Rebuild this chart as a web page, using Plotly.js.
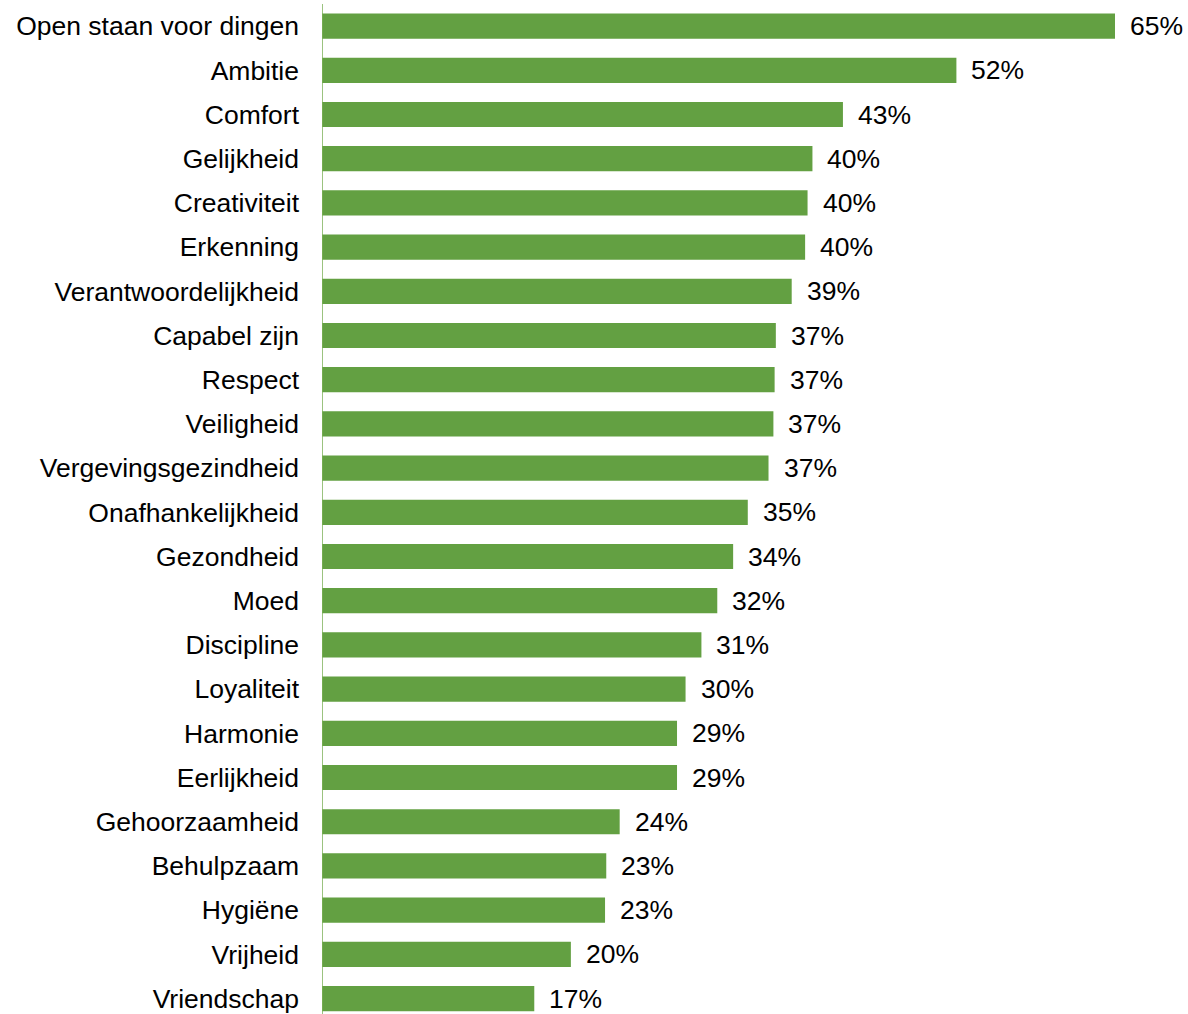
<!DOCTYPE html>
<html>
<head>
<meta charset="utf-8">
<script src="https://cdn.plot.ly/plotly-3.0.1.min.js"></script>
<style>html,body{margin:0;padding:0;background:#fff;}#chart{width:1188px;height:1014px;}</style>
</head>
<body>
<div id="chart"></div>
<script>
const categories = ["Open staan voor dingen","Ambitie","Comfort","Gelijkheid","Creativiteit","Erkenning","Verantwoordelijkheid","Capabel zijn","Respect","Veiligheid","Vergevingsgezindheid","Onafhankelijkheid","Gezondheid","Moed","Discipline","Loyaliteit","Harmonie","Eerlijkheid","Gehoorzaamheid","Behulpzaam","Hygiëne","Vrijheid","Vriendschap"];
const values = [65.0,52.0,42.7,40.2,39.8,39.6,38.5,37.2,37.1,37.0,36.6,34.9,33.7,32.4,31.1,29.8,29.1,29.1,24.4,23.3,23.2,20.4,17.4];
const labels = ["65%","52%","43%","40%","40%","40%","39%","37%","37%","37%","37%","35%","34%","32%","31%","30%","29%","29%","24%","23%","23%","20%","17%"];

const font = {family: "Liberation Sans, Arial, sans-serif", size: 26.5, color: "#000"};

const trace = {
  type: "bar",
  orientation: "h",
  x: values,
  y: categories,
  marker: {color: "#63a042"},
  width: 0.57,
  hoverinfo: "skip"
};

const annotations = categories.map((c, i) => ({
  x: values[i], y: c, xref: "x", yref: "y",
  text: labels[i], showarrow: false, xanchor: "left", xshift: 13,
  font: font
}));

const layout = {
  width: 1188, height: 1014,
  margin: {l: 322, r: 12, t: 4, b: 0},
  paper_bgcolor: "#fff", plot_bgcolor: "#fff",
  showlegend: false,
  font: font,
  xaxis: {range: [0, 70], visible: false, fixedrange: true},
  yaxis: {
    type: "category",
    range: [22.35, -0.5],
    showgrid: false, zeroline: false,
    showline: false,
    ticks: "", ticklabelstandoff: 22,
    tickfont: font, fixedrange: true
  },
  shapes: [{type: "line", xref: "x", yref: "paper", x0: 0, x1: 0, y0: 0, y1: 1, line: {color: "#7aaf55", width: 1.5}}],
  annotations: annotations
};

Plotly.newPlot("chart", [trace], layout, {displayModeBar: false, staticPlot: true});
</script>
</body>
</html>
